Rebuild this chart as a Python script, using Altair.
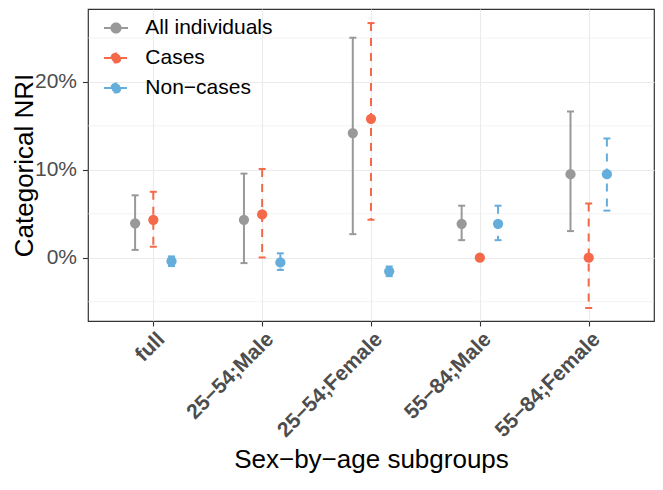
import altair as alt
import pandas as pd

# ---- data (percent) ----
subgroups = ["full", "25−54;Male", "25−54;Female", "55−84;Male", "55−84;Female"]
groups = ["All individuals", "Cases", "Non−cases"]
colors = ["#999999", "#F4694A", "#65AEDC"]

est_all = [3.92, 4.32, 14.18, 3.86, 9.50]
lo_all = [0.89, -0.61, 2.68, 2.00, 3.03]
hi_all = [7.10, 9.57, 25.03, 5.92, 16.64]

est_cases = [4.32, 4.93, 15.80, 0.00, 0.00]
lo_cases = [1.25, 0.03, 4.32, 0.00, -5.72]
hi_cases = [7.50, 10.10, 26.70, 0.00, 6.17]

est_non = [-0.40, -0.54, -1.55, 3.86, 9.50]
lo_non = [-0.95, -1.39, -2.10, 2.00, 5.36]
hi_non = [0.15, 0.50, -1.00, 5.92, 13.57]

major_breaks = [0, 10, 20]
minor_breaks = [-5, 5, 15, 25]

rows = []
for g, est, lo, hi in [
    (groups[0], est_all, lo_all, hi_all),
    (groups[1], est_cases, lo_cases, hi_cases),
    (groups[2], est_non, lo_non, hi_non),
]:
    for s, e, l, h in zip(subgroups, est, lo, hi):
        rows.append({"subgroup": s, "group": g, "est": e / 100, "lo": l / 100, "hi": h / 100})
df = pd.DataFrame(rows)
minor_df = pd.DataFrame({"v": [m / 100 for m in minor_breaks]})

FONT = "Liberation Sans"
GRID = "#EBEBEB"
DARK = "#333333"
TXT = "#4D4D4D"

yscale = alt.Scale(domain=[-0.072, 0.283], nice=False, zero=False)
xenc = alt.X(
    "subgroup:N",
    sort=subgroups,
    scale=alt.Scale(type="point", padding=0.6),
    title="Sex−by−age subgroups",
    axis=alt.Axis(
        labelAngle=-45,
        labelAlign="right",
        labelBaseline="top",
        labelFontSize=21,
        labelFontWeight="bold",
        labelColor=TXT,
        labelPadding=2,
        labelLimit=0,
        tickSize=5,
        tickColor=DARK,
        tickWidth=1.1,
        domain=False,
        grid=True,
        gridColor=GRID,
        gridWidth=1.1,
        titleFontSize=26,
        titleFontWeight="normal",
        titleColor="black",
        titlePadding=6,
    ),
)
xoff = alt.XOffset(
    "group:N", sort=groups,
    scale=alt.Scale(type="point", domain=groups, range=[-18.2, 18.2], padding=0),
)
colscale = alt.Scale(domain=groups, range=colors)

base = alt.Chart(df)

minor = alt.Chart(minor_df).mark_rule(color=GRID, strokeWidth=0.6).encode(
    y=alt.Y("v:Q", scale=yscale)
)

yaxis = alt.Axis(
    values=[b / 100 for b in major_breaks],
    format=".0%",
    labelFontSize=21,
    labelColor=TXT,
    labelPadding=6,
    tickSize=5.5,
    tickColor=DARK,
    tickWidth=1.1,
    domain=False,
    grid=True,
    gridColor=GRID,
    gridWidth=1.1,
    titleFontSize=26,
    titleFontWeight="normal",
    titleColor="black",
    titlePadding=-3,
)

PATH = "M-1,0L1,0M-0.38,0A0.38,0.38,0,1,1,0.38,0A0.38,0.38,0,1,1,-0.38,0Z"
legend_def = alt.Legend(
    title=None,
    orient="none",
    legendX=15,
    legendY=6,
    symbolType=PATH,
    symbolSize=576,
    symbolStrokeWidth=2,
    labelFontSize=21,
    labelColor="black",
    labelFont=FONT,
    labelOffset=16.3,
    labelLimit=0,
    rowPadding=7,
    padding=0,
)

rules = base.mark_rule(strokeWidth=2).encode(
    x=xenc, xOffset=xoff,
    y=alt.Y("hi:Q", scale=yscale, axis=yaxis, title="Categorical NRI"),
    y2="lo:Q",
    color=alt.Color("group:N", scale=colscale, legend=legend_def),
    strokeDash=alt.StrokeDash(
        "group:N", scale=alt.Scale(domain=groups, range=[[1, 0], [8, 7], [8, 7]]), legend=legend_def
    ),
)
cap_hi = base.mark_tick(thickness=2, size=7, opacity=1).encode(
    x=xenc, xOffset=xoff, y=alt.Y("hi:Q", scale=yscale),
    color=alt.Color("group:N", scale=colscale, legend=None),
)
cap_lo = base.mark_tick(thickness=2, size=7, opacity=1).encode(
    x=xenc, xOffset=xoff, y=alt.Y("lo:Q", scale=yscale),
    color=alt.Color("group:N", scale=colscale, legend=None),
)
pts = base.mark_circle(size=105, opacity=1).encode(
    x=xenc, xOffset=xoff, y=alt.Y("est:Q", scale=yscale),
    fill=alt.Fill("group:N", scale=alt.Scale(domain=groups, range=colors), legend=legend_def),
)

chart = (
    alt.layer(minor, rules, cap_hi, cap_lo, pts)
    .properties(
        width=566,
        height=312,
        padding={"left": 80, "top": 1, "right": 1, "bottom": 152},
        autosize=alt.AutoSizeParams(type="none"),
    )
    .configure(font=FONT)
    .configure_view(stroke=DARK, strokeWidth=1.2)
)

chart.save("out.html", embed_options={"renderer": "svg", "actions": False})
